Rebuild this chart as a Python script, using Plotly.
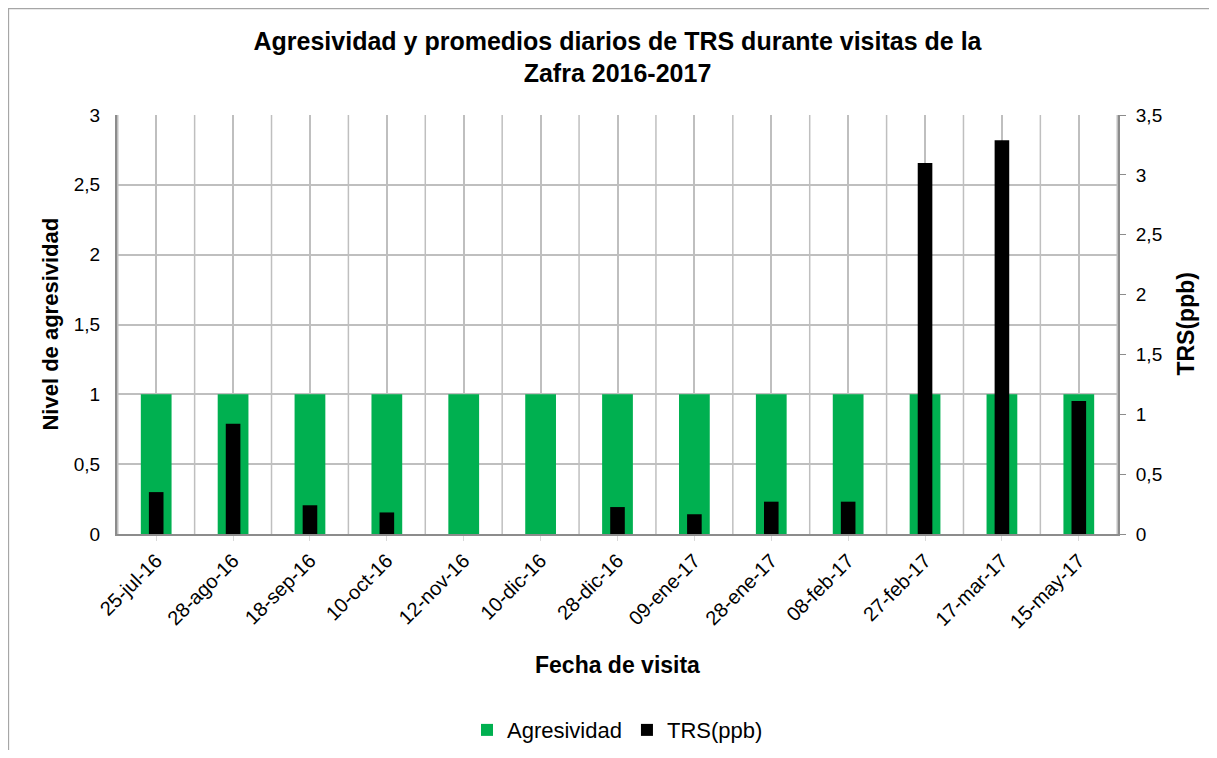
import plotly.graph_objects as go

fechas = ["25-jul-16", "28-ago-16", "18-sep-16", "10-oct-16", "12-nov-16", "10-dic-16",
          "28-dic-16", "09-ene-17", "28-ene-17", "08-feb-17", "27-feb-17", "17-mar-17", "15-may-17"]
agresividad = [1, 1, 1, 1, 1, 1, 1, 1, 1, 1, 1, 1, 1]
trs_ppb = [0.35, 0.92, 0.24, 0.18, 0, 0, 0.225, 0.165, 0.27, 0.27, 3.10, 3.29, 1.11]

FONT = "Arial, Liberation Sans, sans-serif"
GRID = "#BFBFBF"
AXIS = "#8C8C8C"

fig = go.Figure()
fig.add_trace(go.Bar(x=fechas, y=agresividad, name="Agresividad", marker_color="#00B050",
                     marker_line_width=0, width=0.4, yaxis="y"))
fig.add_trace(go.Bar(x=fechas, y=trs_ppb, name="TRS(ppb)", marker_color="#000000",
                     marker_line_width=0, width=0.19, yaxis="y2"))

# category boundary gridlines
for i in range(len(fechas) + 1):
    fig.add_shape(type="line", xref="x", yref="paper", x0=i - 0.5, x1=i - 0.5, y0=0, y1=1,
                  line=dict(color=GRID, width=1.5), layer="below")

# outer chart border
fig.add_shape(type="rect", xref="paper", yref="paper", x0=-0.1085, x1=1.2, y0=-0.6, y1=1.254,
              line=dict(color="#A6A6A6", width=1.5))

# axis titles
fig.add_annotation(text="<b>Fecha de visita</b>", xref="paper", yref="paper", x=0.5, y=-0.3126,
                   xanchor="center", yanchor="middle", showarrow=False, font=dict(size=23))
fig.add_annotation(text="<b>Nivel de agresividad</b>", xref="paper", yref="paper", x=-0.0669, y=0.5,
                   xanchor="center", yanchor="middle", showarrow=False, textangle=-90,
                   font=dict(size=22))
fig.add_annotation(text="<b>TRS(ppb)</b>", xref="paper", yref="paper", x=1.067, y=0.5,
                   xanchor="center", yanchor="middle", showarrow=False, textangle=-90,
                   font=dict(size=23))

fig.update_layout(
    width=1209, height=742,
    margin=dict(l=109, r=99, t=107, b=216, autoexpand=False),
    paper_bgcolor="white", plot_bgcolor="white",
    separators=",.",
    barmode="overlay",
    font=dict(family=FONT, size=19, color="black"),
    title=dict(text="<b>Agresividad y promedios diarios de TRS durante visitas de la<br>Zafra 2016-2017</b>",
               x=0.5, xref="paper", xanchor="center", y=0.944, yanchor="middle",
               font=dict(size=25, family=FONT)),
    xaxis=dict(type="category", showgrid=True, gridcolor=GRID, gridwidth=1.5,
               showline=True, linecolor=AXIS, linewidth=2, mirror=False, automargin=False,
               ticks="outside", ticklen=5, tickcolor="#D9D9D9", tickangle=-45,
               tickfont=dict(size=20)),
    yaxis=dict(range=[0, 3], dtick=0.5, showgrid=True, gridcolor=GRID, gridwidth=1.5,
               showline=True, linecolor=AXIS, linewidth=2, ticks="", zeroline=False,
               automargin=False, ticklabelstandoff=11, tickfont=dict(size=19)),
    yaxis2=dict(range=[0, 3.5], dtick=0.5, overlaying="y", side="right", showgrid=False,
                showline=True, linecolor=AXIS, linewidth=2, ticks="outside", ticklen=6,
                automargin=False, tickcolor=AXIS, zeroline=False, ticklabelstandoff=6,
                tickfont=dict(size=19)),
    legend=dict(orientation="h", x=0.5, xanchor="center", y=-0.468, yanchor="middle",
                font=dict(size=22), itemwidth=30, traceorder="normal"),
    showlegend=True,
)

fig.write_html("out.html")
